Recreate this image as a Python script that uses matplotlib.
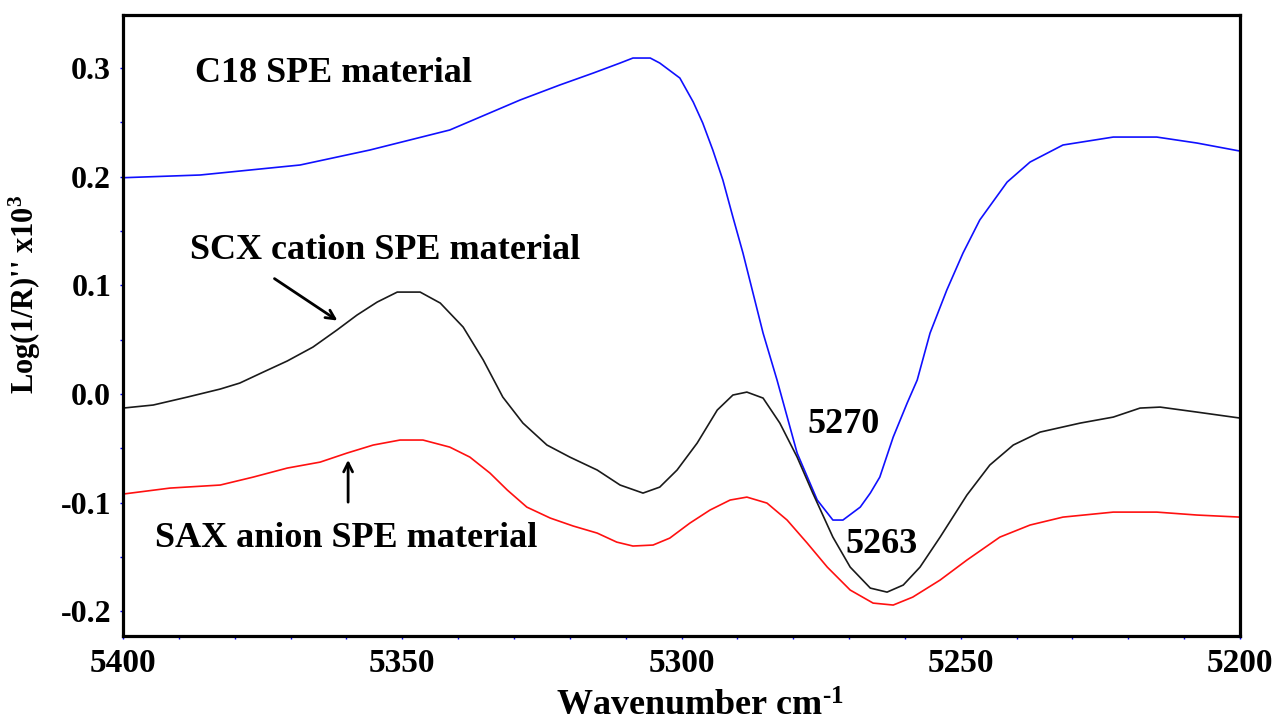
import matplotlib
matplotlib.use('Agg')
import matplotlib.pyplot as plt
from matplotlib.ticker import MultipleLocator, FormatStrFormatter

plt.rcParams['font.family'] = ['Liberation Serif', 'DejaVu Serif']
plt.rcParams['font.weight'] = 'bold'
plt.rcParams['axes.unicode_minus'] = False
plt.rcParams['mathtext.fontset'] = 'custom'
plt.rcParams['mathtext.rm'] = 'Liberation Serif:bold'
plt.rcParams['mathtext.it'] = 'Liberation Serif:bold'
plt.rcParams['mathtext.bf'] = 'Liberation Serif:bold'

# C18 SPE material (blue)
c18_wn = [5400, 5386.2, 5368.3, 5355.8, 5341.5, 5328.9, 5321.8, 5315.8, 5311.0,
          5308.7, 5305.6, 5303.9, 5300.3, 5297.9, 5296.2, 5294.4, 5292.6, 5290.8,
          5289.0, 5287.2, 5285.4, 5282.9, 5279.3, 5275.7, 5272.9, 5271.1, 5268.0,
          5266.2, 5264.5, 5262.1, 5259.6, 5257.8, 5255.5, 5252.5, 5249.6, 5246.6,
          5241.7, 5237.6, 5231.7, 5222.7, 5214.9, 5207.7, 5200]
c18_val = [0.199, 0.2015, 0.2107, 0.2245, 0.2429, 0.2705, 0.2843, 0.2953, 0.3045,
           0.3091, 0.3091, 0.3045, 0.2907, 0.2686, 0.2493, 0.2245, 0.1969, 0.1628,
           0.1297, 0.0929, 0.0561, 0.0129, -0.0543, -0.0975, -0.1159, -0.1159,
           -0.1040, -0.0911, -0.0764, -0.0396, -0.0083, 0.0129, 0.0561, 0.0957,
           0.1297, 0.1601, 0.1950, 0.2134, 0.2291, 0.2364, 0.2364, 0.2309, 0.2235]

# SCX cation SPE material (black)
scx_wn = [5400, 5394.6, 5388.5, 5382.6, 5379.1, 5374.9, 5370.6, 5366.0, 5361.7,
          5358.1, 5354.5, 5350.9, 5346.8, 5343.2, 5339.1, 5335.5, 5332.0, 5328.4,
          5324.1, 5320.0, 5315.1, 5311.0, 5306.9, 5303.9, 5300.8, 5297.2, 5293.6,
          5290.8, 5288.3, 5285.4, 5282.4, 5279.3, 5276.5, 5272.9, 5269.8, 5266.2,
          5263.2, 5260.3, 5257.3, 5253.7, 5248.9, 5244.8, 5240.6, 5235.8, 5228.6,
          5222.7, 5217.9, 5214.3, 5207.7, 5200]
scx_val = [-0.0129, -0.0101, -0.0028, 0.0046, 0.0101, 0.0202, 0.0304, 0.0432,
           0.0589, 0.0727, 0.0846, 0.0938, 0.0938, 0.0837, 0.0616, 0.0313, -0.0028,
           -0.0267, -0.0469, -0.0580, -0.0699, -0.0837, -0.0911, -0.0856, -0.0699,
           -0.0451, -0.0147, -0.0009, 0.0018, -0.0037, -0.0267, -0.0580, -0.0911,
           -0.1316, -0.1592, -0.1785, -0.1822, -0.1757, -0.1592, -0.1316, -0.0929,
           -0.0653, -0.0469, -0.0350, -0.0267, -0.0212, -0.0129, -0.0120, -0.0166,
           -0.0221]

# SAX anion SPE material (red)
sax_wn = [5400, 5391.6, 5382.6, 5376.7, 5370.6, 5364.7, 5359.9, 5355.2, 5350.4,
          5346.3, 5341.5, 5337.9, 5334.3, 5331.2, 5327.7, 5323.5, 5319.4, 5315.1,
          5311.6, 5308.7, 5305.1, 5302.1, 5298.5, 5294.9, 5291.3, 5288.3, 5284.7,
          5281.1, 5277.5, 5273.9, 5269.8, 5265.7, 5262.1, 5258.6, 5253.7, 5248.9,
          5243.0, 5237.6, 5231.7, 5222.7, 5214.9, 5207.7, 5200]
sax_val = [-0.0920, -0.0865, -0.0837, -0.0764, -0.0681, -0.0626, -0.0543, -0.0469,
           -0.0423, -0.0423, -0.0488, -0.0580, -0.0727, -0.0883, -0.1040, -0.1141,
           -0.1214, -0.1279, -0.1362, -0.1398, -0.1389, -0.1325, -0.1187, -0.1067,
           -0.0975, -0.0948, -0.1003, -0.1159, -0.1371, -0.1592, -0.1803, -0.1923,
           -0.1941, -0.1868, -0.1711, -0.1527, -0.1316, -0.1205, -0.1132, -0.1086,
           -0.1086, -0.1113, -0.1132]

fig = plt.figure(figsize=(12.83, 7.24), dpi=100)
ax = fig.add_axes([0.0959, 0.1215, 0.8706, 0.8578])

ax.plot(c18_wn, c18_val, color='#1010ff', linewidth=1.2)
ax.plot(scx_wn, scx_val, color='#1a1a1a', linewidth=1.2)
ax.plot(sax_wn, sax_val, color='#ff1010', linewidth=1.2)

ax.set_xlim(5400, 5200)
ax.set_ylim(-0.2226, 0.3487)

ax.xaxis.set_major_locator(MultipleLocator(50))
ax.xaxis.set_minor_locator(MultipleLocator(10))
ax.yaxis.set_major_locator(MultipleLocator(0.1))
ax.yaxis.set_minor_locator(MultipleLocator(0.05))
ax.yaxis.set_major_formatter(FormatStrFormatter('%.1f'))
ax.xaxis.set_major_formatter(FormatStrFormatter('%d'))

ax.tick_params(axis='both', which='both', direction='out', color='blue',
               length=2.5, width=1)
ax.tick_params(axis='x', labelsize=24, pad=6)
ax.tick_params(axis='y', labelsize=23, pad=6)
for lab in ax.get_xticklabels() + ax.get_yticklabels():
    lab.set_fontweight('bold')

for sp in ax.spines.values():
    sp.set_linewidth(2.3)
    sp.set_color('black')

ax.set_xlabel(r'Wavenumber cm$^{\text{-1}}$', fontsize=26, fontweight='bold')
ax.xaxis.set_label_coords(0.5166, -0.088)
ax.set_ylabel("Log(1/R)'' x10$^{3}$", fontsize=22, fontweight='bold')
ax.yaxis.set_label_coords(-0.0716, 0.551)

# labels
ax.text(5387.1, 0.287, 'C18 SPE material', fontsize=26, fontweight='bold')
ax.text(5388, 0.124, 'SCX cation SPE material', fontsize=26, fontweight='bold')
ax.text(5394.3, -0.1408, 'SAX anion SPE material', fontsize=26, fontweight='bold')
ax.text(5277.5, -0.0359, '5270', fontsize=26, fontweight='bold')
ax.text(5270.7, -0.1463, '5263', fontsize=26, fontweight='bold')

# arrows
ax.annotate('', xy=(5361.2, 0.0662), xytext=(5373.3, 0.1076),
            arrowprops=dict(arrowstyle='->', color='black', lw=2, mutation_scale=16))
ax.annotate('', xy=(5359.7, -0.058), xytext=(5359.7, -0.102),
            arrowprops=dict(arrowstyle='->', color='black', lw=2, mutation_scale=16))

fig.savefig('out.png', dpi=100)
